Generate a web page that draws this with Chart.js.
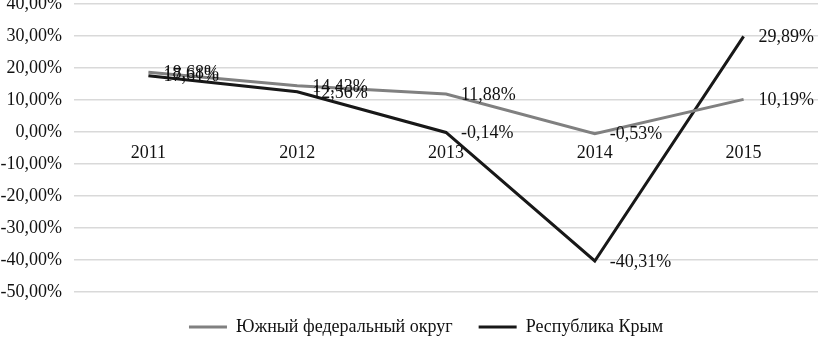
<!DOCTYPE html>
<html><head><meta charset="utf-8">
<script src="https://cdn.jsdelivr.net/npm/chart.js@4.4.1/dist/chart.umd.min.js"></script>
<style>html,body{margin:0;padding:0;background:#fff;overflow:hidden}</style>
</head><body>
<canvas id="c" width="818" height="337" style="display:block;width:818px;height:337px"></canvas>
<script>
const categories = ['2011', '2012', '2013', '2014', '2015'];
const seriesNames = ['Южный федеральный округ', 'Республика Крым'];
const yuzhnyValues = [18.68, 14.43, 11.88, -0.53, 10.19];
const krymValues = [17.61, 12.56, -0.14, -40.31, 29.89];
const yTickValues = [40, 30, 20, 10, 0, -10, -20, -30, -40, -50];

const FONT = 'Liberation Serif, "Times New Roman", serif';
const TEXT = '#111111';
const FS = 18;
const fmt = v => v.toFixed(2).replace('.', ',') + '%';

const valueLabels = {
  id: 'valueLabels',
  afterDatasetsDraw(chart) {
    const ctx = chart.ctx;
    ctx.save();
    ctx.font = FS + 'px ' + FONT;
    ctx.fillStyle = TEXT;
    ctx.textAlign = 'left';
    ctx.textBaseline = 'middle';
    chart.data.datasets.forEach((ds, i) => {
      const meta = chart.getDatasetMeta(i);
      meta.data.forEach((pt, j) => {
        ctx.fillText(fmt(ds.data[j]), pt.x + 15, pt.y + 1);
      });
    });
    ctx.restore();
  }
};

const legendTweak = {
  id: 'legendTweak',
  beforeLayout(chart) {
    const lg = chart.legend;
    if (lg && !lg._patched) {
      const origFit = lg.fit;
      lg.fit = function () { origFit.call(this); this.height = 45; };
      const origDraw = lg.draw;
      lg.draw = function () {
        const ctx = this.ctx;
        ctx.save();
        ctx.translate(17, 0);
        origDraw.call(this);
        ctx.restore();
      };
      lg._patched = true;
    }
  }
};

new Chart(document.getElementById('c'), {
  type: 'line',
  data: {
    labels: categories,
    datasets: [
      { label: seriesNames[0], data: yuzhnyValues, borderColor: '#808080', backgroundColor: '#808080', borderWidth: 3, pointRadius: 0, tension: 0 },
      { label: seriesNames[1], data: krymValues, borderColor: '#181818', backgroundColor: '#181818', borderWidth: 3, pointRadius: 0, tension: 0 }
    ]
  },
  options: {
    responsive: false,
    animation: false,
    layout: { padding: { top: 4, right: 0, left: 0, bottom: 0 } },
    plugins: {
      tooltip: { enabled: false },
      legend: {
        position: 'bottom',
        labels: {
          usePointStyle: true,
          pointStyle: 'line',
          pointStyleWidth: 38,
          padding: 26,
          color: TEXT,
          font: { family: FONT, size: FS }
        }
      }
    },
    scales: {
      x: {
        position: { y: 0 },
        offset: true,
        grid: { display: false, drawTicks: false },
        border: { display: false },
        ticks: { color: TEXT, font: { family: FONT, size: FS }, padding: 10, maxRotation: 0 }
      },
      y: {
        min: -50, max: 40,
        afterBuildTicks(scale) { scale.ticks = yTickValues.map(v => ({ value: v })); },
        afterFit(scale) { scale.width = 74; scale.paddingTop = 0; scale.paddingBottom = 0; },
        grid: { color: '#d9d9d9', lineWidth: 1.5, drawTicks: false },
        border: { display: false },
        ticks: { color: TEXT, font: { family: FONT, size: FS }, padding: 12, callback: v => fmt(v) }
      }
    }
  },
  plugins: [valueLabels, legendTweak]
});
</script>
</body></html>
